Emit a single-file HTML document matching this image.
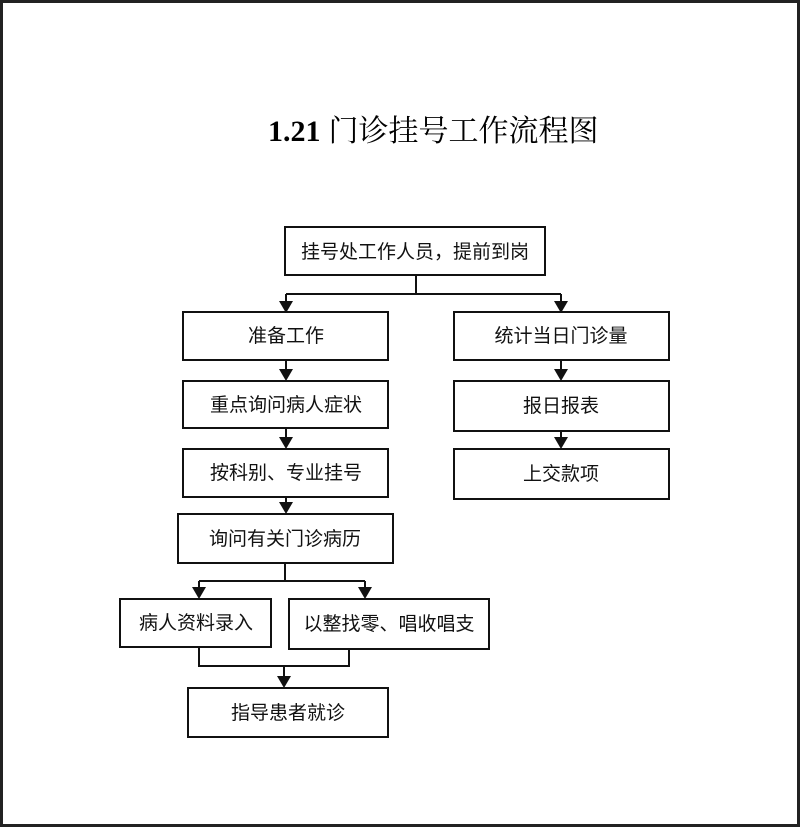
<!DOCTYPE html>
<html><head><meta charset="utf-8"><style>
body{margin:0;width:800px;height:827px;background:#fff;overflow:hidden}
</style></head><body>
<svg width="800" height="827" xmlns="http://www.w3.org/2000/svg" font-family="'Liberation Sans','Noto Sans CJK SC',sans-serif">
<rect x="1.5" y="1.5" width="797" height="824" fill="none" stroke="#222" stroke-width="3"/>
<text x="268" y="141" font-size="30" font-family="'Liberation Serif','Noto Serif CJK SC',serif"><tspan font-weight="bold">1.21</tspan><tspan dx="8">门诊挂号工作流程图</tspan></text>
<g fill="none" stroke="#111" stroke-width="2">
<rect x="285" y="227" width="260" height="48"/>
<rect x="183" y="312" width="205" height="48"/>
<rect x="183" y="381" width="205" height="47"/>
<rect x="183" y="449" width="205" height="48"/>
<rect x="178" y="514" width="215" height="49"/>
<rect x="120" y="599" width="151" height="48"/>
<rect x="289" y="599" width="200" height="50"/>
<rect x="188" y="688" width="200" height="49"/>
<rect x="454" y="312" width="215" height="48"/>
<rect x="454" y="381" width="215" height="50"/>
<rect x="454" y="449" width="215" height="50"/>
<path d="M416 275V294M286 294H561M286 294V302M561 294V302"/>
<path d="M286 360V370M286 428V438M286 497V503"/>
<path d="M561 360V370M561 431V438"/>
<path d="M285 563V581M199 581H365M199 581V588M365 581V588"/>
<path d="M199 647V666H349V649M284 666V677"/>
</g>
<g fill="#111">
<path d="M279 301h14l-7 12z"/><path d="M554 301h14l-7 12z"/>
<path d="M279 369h14l-7 12z"/><path d="M279 437h14l-7 12z"/><path d="M279 502h14l-7 12z"/>
<path d="M554 369h14l-7 12z"/><path d="M554 437h14l-7 12z"/>
<path d="M192 587h14l-7 12z"/><path d="M358 587h14l-7 12z"/>
<path d="M277 676h14l-7 12z"/>
</g>
<g font-size="19" fill="#111" text-anchor="middle">
<text x="415" y="258">挂号处工作人员，提前到岗</text>
<text x="286" y="342">准备工作</text>
<text x="286" y="411">重点询问病人症状</text>
<text x="286" y="479">按科别、专业挂号</text>
<text x="285" y="545">询问有关门诊病历</text>
<text x="196" y="629">病人资料录入</text>
<text x="389" y="630">以整找零、唱收唱支</text>
<text x="288" y="719">指导患者就诊</text>
<text x="561" y="342">统计当日门诊量</text>
<text x="561" y="412">报日报表</text>
<text x="561" y="480">上交款项</text>
</g>
</svg>
</body></html>
